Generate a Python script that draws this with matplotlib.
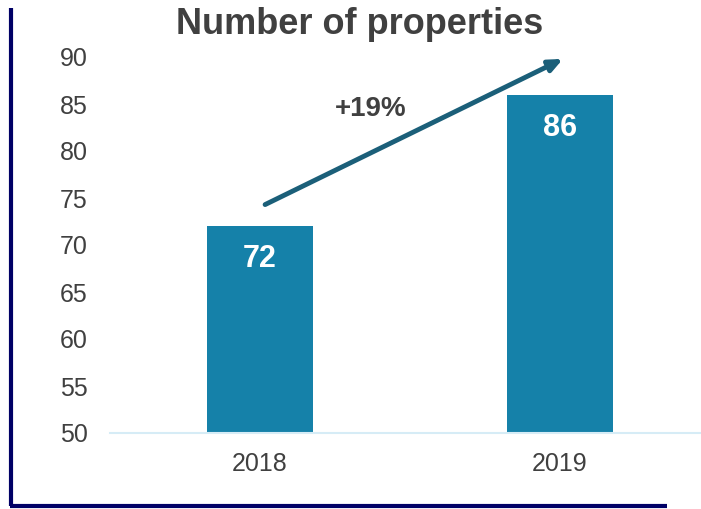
import matplotlib

matplotlib.use("Agg")

import matplotlib.pyplot as plt  # noqa: E402
from matplotlib.lines import Line2D  # noqa: E402

years = ["2018", "2019"]
properties = [72, 86]
growth_label = "+19%"
y_ticks = [50, 55, 60, 65, 70, 75, 80, 85, 90]

BAR_COLOR = "#1581a9"
ARROW_COLOR = "#1b5f79"
TEXT_COLOR = "#404040"
FRAME_COLOR = "#000066"
BASE_COLOR = "#d6ecf6"

plt.rcParams["font.family"] = ["Liberation Sans", "DejaVu Sans"]

W, H = 701, 509
fig = plt.figure(figsize=(W / 100, H / 100), dpi=100, facecolor="white")
ax = fig.add_axes([110 / W, (H - 433) / H, (W - 110) / W, (433 - 57) / H])

xs = list(range(len(years)))
bars = ax.bar(xs, properties, width=0.353, color=BAR_COLOR, zorder=2)

for x, v in zip(xs, properties):
    ax.text(x, v - 3.5, str(v), ha="center", va="center",
            color="white", fontsize=22, fontweight="bold", zorder=3)

ax.set_ylim(50, 90)
ax.set_xlim(-0.5, 1.47)
ax.set_yticks(y_ticks)
ax.set_xticks(xs)
ax.set_xticklabels(years)
ax.tick_params(axis="y", length=0, pad=16, labelsize=18, labelcolor=TEXT_COLOR)
ax.tick_params(axis="x", length=0, pad=14, labelsize=18, labelcolor=TEXT_COLOR)

for side in ("left", "right", "top"):
    ax.spines[side].set_visible(False)
ax.spines["bottom"].set_color(BASE_COLOR)
ax.spines["bottom"].set_linewidth(1.5)

# growth arrow between the two bars
ax.annotate("", xy=(1.01, 89.8), xytext=(0.017, 74.3),
            arrowprops=dict(arrowstyle="-|>,head_length=0.8,head_width=0.35",
                            color=ARROW_COLOR, lw=3.5, shrinkA=0, shrinkB=0),
            zorder=4)
ax.text(0.37, 84.5, growth_label, ha="center", va="center",
        color=TEXT_COLOR, fontsize=20, fontweight="bold")

fig.text(360 / W, 1 - 25 / H, "Number of properties", ha="center", va="center",
         color=TEXT_COLOR, fontsize=26, fontweight="bold")

# frame on the left and bottom
fig.add_artist(Line2D([11 / W, 11 / W], [1 - 8 / H, 1 - 506 / H],
                      color=FRAME_COLOR, lw=3, solid_capstyle="butt"))
fig.add_artist(Line2D([9.5 / W, 667 / W], [1 - 506 / H, 1 - 506 / H],
                      color=FRAME_COLOR, lw=3, solid_capstyle="butt"))

fig.savefig("out.png", dpi=100, facecolor="white")
plt.close(fig)
